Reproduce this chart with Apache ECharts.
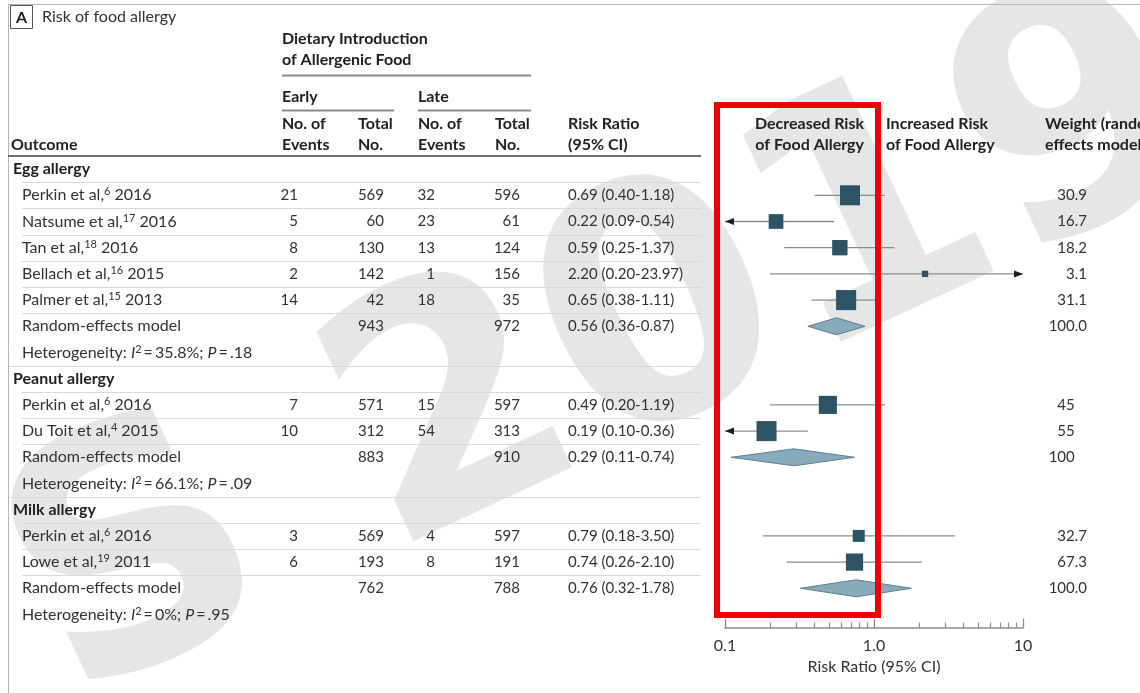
<!DOCTYPE html>
<html>
<head>
<meta charset="utf-8">
<title>Risk of food allergy</title>
<script src="https://cdn.jsdelivr.net/npm/echarts@6/dist/echarts.min.js"></script>
<style>
html, body { margin: 0; padding: 0; background: #fff; }
#chart { width: 1140px; height: 693px; }
</style>
</head>
<body>
<div id="chart"></div>
<script>
// table rows, top to bottom
const rowKind = ['group', 'study', 'study', 'study', 'study', 'study', 'pooled', 'het',
    'group', 'study', 'study', 'pooled', 'het',
    'group', 'study', 'study', 'pooled', 'het'];
const rowLabels = [
    'Egg allergy',
    'Perkin et al,^6^ 2016',
    'Natsume et al,^17^ 2016',
    'Tan et al,^18^ 2016',
    'Bellach et al,^16^ 2015',
    'Palmer et al,^15^ 2013',
    'Random-effects model',
    'Heterogeneity: _I_^2^\u2009=\u200935.8%; _P_\u2009=\u2009.18',
    'Peanut allergy',
    'Perkin et al,^6^ 2016',
    'Du Toit et al,^4^ 2015',
    'Random-effects model',
    'Heterogeneity: _I_^2^\u2009=\u200966.1%; _P_\u2009=\u2009.09',
    'Milk allergy',
    'Perkin et al,^6^ 2016',
    'Lowe et al,^19^ 2011',
    'Random-effects model',
    'Heterogeneity: _I_^2^\u2009=\u20090%; _P_\u2009=\u2009.95',
];
const earlyEvents = ['', '21', '5', '8', '2', '14', '', '', '', '7', '10', '', '', '', '3', '6', '', ''];
const earlyTotal = ['', '569', '60', '130', '142', '42', '943', '', '', '571', '312', '883', '', '', '569', '193', '762', ''];
const lateEvents = ['', '32', '23', '13', '1', '18', '', '', '', '15', '54', '', '', '', '4', '8', '', ''];
const lateTotal = ['', '596', '61', '124', '156', '35', '972', '', '', '597', '313', '910', '', '', '597', '191', '788', ''];
const riskRatio = [null, 0.69, 0.22, 0.59, 2.20, 0.65, 0.56, null, null, 0.49, 0.19, 0.29, null, null, 0.79, 0.74, 0.76, null];
const ciLower = [null, 0.40, 0.09, 0.25, 0.20, 0.38, 0.36, null, null, 0.20, 0.10, 0.11, null, null, 0.18, 0.26, 0.32, null];
const ciUpper = [null, 1.18, 0.54, 1.37, 23.97, 1.11, 0.87, null, null, 1.19, 0.36, 0.74, null, null, 3.50, 2.10, 1.78, null];
const weights = ['', '30.9', '16.7', '18.2', '3.1', '31.1', '100.0', '', '', '45', '55', '100', '', '', '32.7', '67.3', '100.0', ''];
const axisMin = 0.1;
const axisMax = 10;
const minorTicks = [0.1, 0.2, 0.3, 0.4, 0.5, 0.6, 0.7, 0.8, 0.9, 1, 2, 3, 4, 5, 6, 7, 8, 9, 10];
const majorTicks = [0.1, 1, 10];

const FONT = 'Lato, "Open Sans", sans-serif';
const GRID_LEFT = 725;
const GRID_RIGHT = 1023;
const GRID_TOP = 156;
const GRID_H = 471.6;
const ROW_H = GRID_H / rowKind.length;
const BOX_SCALE = [3.6, 2.7, 2.1]; // square size per sqrt(weight), per outcome group

const RICH = {
    n: {fontFamily: FONT, fontSize: 16, color: '#333', lineHeight: 18},
    d: {fontFamily: FONT, fontSize: 15, color: '#333', lineHeight: 18},
    b: {fontFamily: FONT, fontSize: 16, fontWeight: 'bold', color: '#222', lineHeight: 18},
    it: {fontFamily: FONT, fontSize: 16, fontStyle: 'italic', color: '#333', lineHeight: 18},
    sup: {fontFamily: FONT, fontSize: 11, color: '#333', verticalAlign: 'top', lineHeight: 11},
    h: {fontFamily: FONT, fontSize: 15, color: 'rgba(0,0,0,0)', lineHeight: 18},
};

function richLabel(s, base) {
    return s.split(/(\^[^^]+\^|_[^_]+_)/).filter(Boolean).map((p) => {
        if (p[0] === '^') return '{sup|' + p.slice(1, -1) + '}';
        if (p[0] === '_') return '{it|' + p.slice(1, -1) + '}';
        return '{' + base + '|' + p + '}';
    }).join('');
}

function textColumn(x, align, fmt) {
    const pos = x <= GRID_LEFT ? 'left' : 'right';
    return {
        type: 'category',
        gridIndex: 0,
        inverse: true,
        position: pos,
        offset: pos === 'left' ? GRID_LEFT - x : x - GRID_RIGHT,
        data: rowKind.map((k, i) => i),
        axisLine: {show: false},
        axisTick: {show: false},
        splitLine: {show: false},
        axisLabel: {
            interval: 0,
            margin: 0,
            align: align,
            fontFamily: FONT,
            fontSize: 15,
            color: '#333',
            rich: RICH,
            formatter: fmt,
        },
    };
}

const plain = (arr) => (v, i) => arr[i] ? '{d|' + arr[i] + '}' : '';

// forest data: [rr, row, lower, upper, boxSize, pooled]
const forestData = [];
let group = -1;
rowKind.forEach((k, i) => {
    if (k === 'group') group++;
    if (riskRatio[i] == null) return;
    const size = BOX_SCALE[group] * Math.sqrt(parseFloat(weights[i]));
    forestData.push([riskRatio[i], i, ciLower[i], ciUpper[i], size, k === 'pooled' ? 1 : 0]);
});

function renderForest(params, api) {
    const row = api.value(1);
    const y = api.coord([1, row])[1];
    const xMin = api.coord([axisMin, row])[0];
    const xMax = api.coord([axisMax, row])[0];
    const xr = api.coord([api.value(0), row])[0];
    const xl = api.coord([api.value(2), row])[0];
    const xh = api.coord([api.value(3), row])[0];
    if (api.value(5) === 1) {
        return {
            type: 'polygon',
            shape: {points: [[xl, y], [xr, y - 8.5], [xh, y], [xr, y + 8.5]]},
            style: {fill: '#88abbc', stroke: '#5d7f8f', lineWidth: 1},
        };
    }
    const a = Math.max(xl, xMin);
    const b = Math.min(xh, xMax);
    const children = [{
        type: 'line',
        shape: {x1: a, y1: y, x2: b, y2: y},
        style: {stroke: '#8c8c8c', lineWidth: 1.3},
    }];
    if (api.value(2) <= axisMin) {
        children.push({type: 'polygon', shape: {points: [[a, y], [a + 9, y - 3.5], [a + 9, y + 3.5]]}, style: {fill: '#1e1e1e'}});
    }
    if (api.value(3) >= axisMax) {
        children.push({type: 'polygon', shape: {points: [[b, y], [b - 9, y - 3.5], [b - 9, y + 3.5]]}, style: {fill: '#1e1e1e'}});
    }
    const s = api.value(4);
    children.push({
        type: 'rect',
        shape: {x: xr - s / 2, y: y - s / 2, width: s, height: s},
        style: {fill: '#2d5464'},
    });
    return {type: 'group', children: children};
}

function txt(x, y, text, bold, align) {
    return {
        type: 'text', x: x, y: y, z: 10,
        style: {
            text: text,
            font: (bold ? 'bold ' : '') + '16px ' + FONT,
            fill: bold ? '#222' : '#333',
            align: align || 'left',
            verticalAlign: 'middle',
        },
    };
}

function hline(x1, x2, y, color, w) {
    return {type: 'line', z: 5, shape: {x1: x1, y1: y, x2: x2, y2: y}, style: {stroke: color, lineWidth: w}};
}

const graphics = [
    // faint watermark behind the figure
    {
        type: 'text', x: 610, y: 355, z: -10,
        rotation: 25 * Math.PI / 180,
        style: {
            text: 'S 2019',
            font: 'bold 330px "DejaVu Sans", sans-serif',
            fill: '#e6e6e6',
            align: 'center',
            verticalAlign: 'middle',
        },
    },
    hline(8, 1140, 4.5, '#b5b5b5', 1),
    {type: 'line', z: 5, shape: {x1: 8.5, y1: 4, x2: 8.5, y2: 693}, style: {stroke: '#b5b5b5', lineWidth: 1}},
    {type: 'rect', z: 6, shape: {x: 10.5, y: 5.5, width: 22, height: 23}, style: {fill: '#fff', stroke: '#555', lineWidth: 1}},
    txt(21.5, 18, 'A', true, 'center'),
    txt(42, 17, 'Risk of food allergy', false),
    txt(282, 39, 'Dietary Introduction', true),
    txt(282, 60, 'of Allergenic Food', true),
    hline(282, 531, 75.5, '#8a8a8a', 2),
    txt(282, 97, 'Early', true),
    txt(418, 97, 'Late', true),
    hline(282, 394, 110.5, '#8a8a8a', 2),
    hline(418, 531, 110.5, '#8a8a8a', 2),
    txt(282, 124, 'No. of', true),
    txt(282, 145, 'Events', true),
    txt(358, 124, 'Total', true),
    txt(358, 145, 'No.', true),
    txt(418, 124, 'No. of', true),
    txt(418, 145, 'Events', true),
    txt(495, 124, 'Total', true),
    txt(495, 145, 'No.', true),
    txt(568, 124, 'Risk Ratio', true),
    txt(568, 145, '(95% CI)', true),
    txt(11, 145, 'Outcome', true),
    txt(864, 124, 'Decreased Risk', true, 'right'),
    txt(864, 145, 'of Food Allergy', true, 'right'),
    txt(886, 124, 'Increased Risk', true),
    txt(886, 145, 'of Food Allergy', true),
    txt(1045, 124, 'Weight (random-', true),
    txt(1045, 145, 'effects model)', true),
    hline(8, 701, GRID_TOP, '#6e6e6e', 2),
    {
        type: 'rect', z: 100,
        shape: {x: 717, y: 105, width: 161, height: 510},
        style: {fill: 'none', stroke: '#ee0000', lineWidth: 6},
    },
];
// row separators
for (let i = 0; i < rowKind.length - 1; i++) {
    const next = rowKind[i + 1];
    if (next === 'het') continue;
    const y = Math.round(GRID_TOP + (i + 1) * ROW_H) + 0.5;
    graphics.push(hline(next === 'group' ? 9 : 22, 701, y, '#d9d9d9', 1));
}

const chart = echarts.init(document.getElementById('chart'));
chart.setOption({
    animation: false,
    backgroundColor: '#fff',
    grid: {
        left: GRID_LEFT,
        right: 1140 - GRID_RIGHT,
        top: GRID_TOP,
        height: GRID_H,
        outerBoundsMode: 'none',
        containLabel: false,
    },
    xAxis: [
        {
            type: 'log',
            logBase: 10,
            min: axisMin,
            max: axisMax,
            position: 'bottom',
            name: 'Risk Ratio (95% CI)',
            nameLocation: 'middle',
            nameGap: 31,
            nameTextStyle: {fontFamily: FONT, fontSize: 16, color: '#333'},
            axisLine: {show: true, lineStyle: {color: '#8a8a8a', width: 1.5}},
            axisTick: {show: true, inside: true, length: 9, customValues: majorTicks, lineStyle: {color: '#8a8a8a', width: 1.2}},
            axisLabel: {
                margin: 10,
                customValues: majorTicks,
                fontFamily: FONT,
                fontSize: 16,
                color: '#333',
                formatter: (v) => (v === 1 ? '1.0' : String(v)),
            },
            splitLine: {show: false},
        },
        {
            type: 'log',
            logBase: 10,
            min: axisMin,
            max: axisMax,
            position: 'bottom',
            axisLine: {show: false},
            axisTick: {show: true, inside: true, length: 5, customValues: minorTicks, lineStyle: {color: '#8a8a8a', width: 1.2}},
            axisLabel: {show: false},
            splitLine: {show: false},
        },
    ],
    yAxis: [
        {
            type: 'category',
            inverse: true,
            position: 'left',
            data: rowKind.map((k, i) => i),
            axisLine: {show: false},
            axisTick: {show: false},
            axisLabel: {show: false},
            splitLine: {show: false},
        },
        textColumn(13, 'left', (v, i) => (rowKind[i] === 'group' ? '{b|' + rowLabels[i] + '}' : '')),
        textColumn(22, 'left', (v, i) => (rowKind[i] !== 'group' ? richLabel(rowLabels[i], 'n') : '')),
        textColumn(298, 'right', plain(earlyEvents)),
        textColumn(384, 'right', plain(earlyTotal)),
        textColumn(435, 'right', plain(lateEvents)),
        textColumn(520, 'right', plain(lateTotal)),
        textColumn(568, 'left', (v, i) => (riskRatio[i] == null ? ''
            : '{d|' + riskRatio[i].toFixed(2) + ' (' + ciLower[i].toFixed(2) + '-' + ciUpper[i].toFixed(2) + ')}')),
        textColumn(1087, 'right', (v, i) => {
            const w = weights[i];
            if (!w) return '';
            return w.indexOf('.') >= 0 ? '{d|' + w + '}' : '{d|' + w + '}{h|.0}';
        }),
    ],
    graphic: graphics,
    series: [
        {
            type: 'custom',
            xAxisIndex: 0,
            yAxisIndex: 0,
            encode: {x: [0, 2, 3], y: 1},
            renderItem: renderForest,
            data: forestData,
            z: 3,
        },
    ],
});
</script>
</body>
</html>
